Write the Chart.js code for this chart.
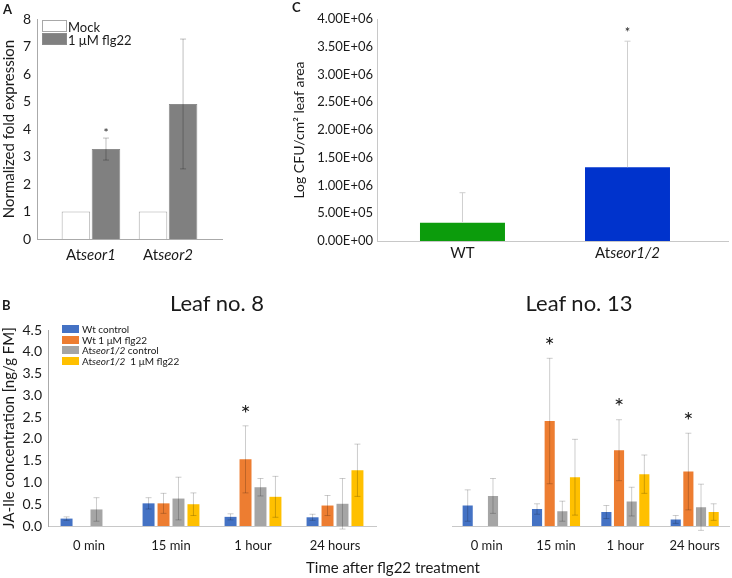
<!DOCTYPE html>
<html>
<head>
<meta charset="utf-8">
<script src="https://cdn.jsdelivr.net/npm/chart.js@4.4.0/dist/chart.umd.min.js"></script>
<style>
  body { margin: 0; background: #fff; font-family: Lato, "Open Sans", sans-serif; color: #1a1a1a; }
  #fig { position: relative; width: 732px; height: 578px; overflow: hidden; }
  canvas { position: absolute; }
  .txt { position: absolute; white-space: nowrap; line-height: 1; }
  .letter { font-weight: bold; font-size: 13px; }
  .center { transform: translateX(-50%); }
  .leg { position: absolute; white-space: nowrap; }
  .leg div { position: relative; }
  .leg span.box { position: absolute; left: 0; }
</style>
</head>
<body>
<div id="fig">
  <canvas id="chartA" width="230" height="270" style="left:0;top:0"></canvas>
  <canvas id="chartC" width="450" height="270" style="left:282px;top:0"></canvas>
  <canvas id="chartB8" width="392" height="288" style="left:0;top:290px"></canvas>
  <canvas id="chartB13" width="340" height="288" style="left:392px;top:290px"></canvas>

  <div class="txt letter" style="left:3px;top:3px">A</div>
  <div class="txt letter" style="left:292px;top:1px">C</div>
  <div class="txt letter" style="left:2px;top:299px">B</div>

  <div class="txt center" style="left:217px;top:292px;font-size:22px">Leaf no. 8</div>
  <div class="txt center" style="left:579px;top:292px;font-size:22px">Leaf no. 13</div>
  <div class="txt center" style="left:393px;top:560px;font-size:15px">Time after flg22 treatment</div>

  <div id="legendA" class="leg" style="left:42px;top:20px;font-size:13px"></div>
  <div id="legendB" class="leg" style="left:62px;top:324px;font-size:10px"></div>
</div>

<script>
// ---- panel A: qPCR ----
var geneLabels = ['Atseor1', 'Atseor2'];
var mockValues = [1, 1];
var flgValues = [3.27, 4.91];
var flgErrors = [0.4, 2.36];
var flgStars = [1, 0];

// ---- panel C: bacterial growth ----
var genotypes = ['WT', 'Atseor1/2'];
var cfuValues = [330000, 1330000];
var cfuErrors = [540000, 2270000];
var cfuStars = [0, 1];
var cfuColors = ['#0c9c0c', '#0033cc'];

// ---- panel B: JA-Ile ----
var timePoints = ['0 min', '15 min', '1 hour', '24 hours'];
var seriesNames = ['Wt control', 'Wt 1 μM flg22', 'At<i>seor1/2</i> control', 'At<i>seor1/2</i>&nbsp; 1 μM flg22'];
var seriesColors = ['#4472c4', '#ed7d31', '#a5a5a5', '#ffc000'];

var leaf8WtControl = [0.17, 0.52, 0.21, 0.20];
var leaf8WtFlg22 = [null, 0.52, 1.53, 0.47];
var leaf8MutControl = [0.38, 0.63, 0.89, 0.51];
var leaf8MutFlg22 = [null, 0.50, 0.67, 1.28];
var leaf8WtControlErr = [0.04, 0.13, 0.07, 0.07];
var leaf8WtFlg22Err = [0, 0.23, 0.77, 0.23];
var leaf8MutControlErr = [0.27, 0.49, 0.2, 0.58];
var leaf8MutFlg22Err = [0, 0.26, 0.47, 0.6];
var leaf8Stars = [0, 0, 1, 0];

var leaf13WtControl = [0.47, 0.39, 0.32, 0.15];
var leaf13WtFlg22 = [null, 2.41, 1.74, 1.25];
var leaf13MutControl = [0.69, 0.34, 0.56, 0.43];
var leaf13MutFlg22 = [null, 1.12, 1.19, 0.32];
var leaf13WtControlErr = [0.36, 0.12, 0.15, 0.09];
var leaf13WtFlg22Err = [0, 1.44, 0.7, 0.88];
var leaf13MutControlErr = [0.4, 0.23, 0.33, 0.53];
var leaf13MutFlg22Err = [0, 0.87, 0.44, 0.19];
var leaf13Stars = [0, 1, 1, 1];

var jaTicks = [0, 0.5, 1, 1.5, 2, 2.5, 3, 3.5, 4, 4.5];

Chart.defaults.font.family = 'Lato, "Open Sans", sans-serif';
Chart.defaults.color = '#1a1a1a';
Chart.defaults.animation = false;
Chart.defaults.plugins.legend.display = false;
Chart.defaults.plugins.tooltip.enabled = false;

// error bars + significance stars, read from dataset.errors / dataset.stars
var errorBars = {
  id: 'errorBars',
  afterDatasetsDraw: function (chart, args, opts) {
    var ctx = chart.ctx, ys = chart.scales.y;
    chart.data.datasets.forEach(function (ds, di) {
      if (!ds.errors) return;
      var meta = chart.getDatasetMeta(di);
      meta.data.forEach(function (bar, i) {
        var v = meta.controller.getParsed(i).y;
        var e = ds.errors[i];
        if (v == null || isNaN(v)) return;
        var top = ys.getPixelForValue(v + e);
        var bot = opts.upOnly ? ys.getPixelForValue(v) : ys.getPixelForValue(v - e);
        var half = opts.cap / 2;
        if (e) {
          ctx.save();
          ctx.strokeStyle = opts.color;
          ctx.lineWidth = 1;
          ctx.beginPath();
          ctx.moveTo(bar.x, top); ctx.lineTo(bar.x, bot);
          ctx.moveTo(bar.x - half, top); ctx.lineTo(bar.x + half, top);
          if (!opts.upOnly) { ctx.moveTo(bar.x - half, bot); ctx.lineTo(bar.x + half, bot); }
          ctx.stroke();
          ctx.restore();
        }
        if (ds.stars && ds.stars[i]) {
          ctx.save();
          ctx.fillStyle = '#1a1a1a';
          ctx.font = opts.starFont + 'px Lato, sans-serif';
          ctx.textAlign = 'center';
          ctx.textBaseline = 'middle';
          ctx.fillText('*', bar.x, top - opts.starGap);
          ctx.restore();
        }
      });
    });
  }
};

// category names under a linear x scale, "At" upright and the rest italic
var mixedLabels = {
  id: 'mixedLabels',
  afterDraw: function (chart, args, opts) {
    if (!opts.labels) return;
    var ctx = chart.ctx, xs = chart.scales.x;
    var y = chart.chartArea.bottom + opts.offset;
    opts.labels.forEach(function (lab, i) {
      var parts = lab.indexOf('At') === 0 ? [['At', ''], [lab.slice(2), 'italic ']] : [[lab, '']];
      ctx.save();
      ctx.fillStyle = '#1a1a1a';
      ctx.textBaseline = 'middle';
      ctx.textAlign = 'left';
      var widths = parts.map(function (p) {
        ctx.font = p[1] + opts.size + 'px Lato, sans-serif';
        return ctx.measureText(p[0]).width;
      });
      var total = widths.reduce(function (a, b) { return a + b; }, 0);
      var x = xs.getPixelForValue(i) - total / 2;
      parts.forEach(function (p, k) {
        ctx.font = p[1] + opts.size + 'px Lato, sans-serif';
        ctx.fillText(p[0], x, y);
        x += widths[k];
      });
      ctx.restore();
    });
  }
};

function pts(values) {
  return values.map(function (v, i) { return { x: i, y: v }; });
}

function sciLabel(v) {
  return v.toExponential(2).toUpperCase().replace(/E([+-])(\d)$/, 'E$10$2');
}

// Panel A
new Chart(document.getElementById('chartA'), {
  type: 'bar',
  data: {
    datasets: [
      { label: 'Mock', data: pts(mockValues), backgroundColor: '#ffffff', borderColor: '#a8a8a8', borderWidth: 1 },
      { label: '1 μM flg22', data: pts(flgValues), backgroundColor: '#808080', borderColor: '#8c8c8c', borderWidth: 1,
        errors: flgErrors, stars: flgStars }
    ]
  },
  options: {
    responsive: false,
    layout: { padding: { top: 19, right: 8, left: 0, bottom: 0 } },
    datasets: { bar: { categoryPercentage: 0.78, barPercentage: 0.95 } },
    scales: {
      x: {
        type: 'linear', min: -0.7, max: 1.7, offset: false,
        grid: { display: false, offset: false }, border: { color: '#aaa' },
        ticks: { display: false, stepSize: 1, includeBounds: false },
        afterFit: function (s) { s.height = 31; }
      },
      y: {
        min: 0, max: 8,
        ticks: { stepSize: 1, padding: 6, font: { size: 14 } },
        grid: { display: false, drawTicks: false }, border: { color: '#aaa' },
        title: { display: true, text: 'Normalized fold expression', font: { size: 15 }, padding: { top: 0, bottom: 0 } },
        afterFit: function (s) { s.width = 37; }
      }
    },
    plugins: {
      errorBars: { color: 'rgba(0,0,0,0.25)', cap: 6, starFont: 12, starGap: 5 },
      mixedLabels: { labels: geneLabels, offset: 16, size: 15 }
    }
  },
  plugins: [errorBars, mixedLabels]
});

// Panel C
new Chart(document.getElementById('chartC'), {
  type: 'bar',
  data: {
    datasets: [
      { label: 'CFU', data: pts(cfuValues), backgroundColor: cfuColors, errors: cfuErrors, stars: cfuStars }
    ]
  },
  options: {
    responsive: false,
    layout: { padding: { top: 19, right: 4, left: 0, bottom: 0 } },
    datasets: { bar: { categoryPercentage: 0.515, barPercentage: 1 } },
    scales: {
      x: {
        type: 'linear', min: -0.518, max: 1.609, offset: false,
        grid: { display: false, offset: false }, border: { color: '#c8c8c8' },
        ticks: { display: false, stepSize: 1, includeBounds: false },
        afterFit: function (s) { s.height = 29; }
      },
      y: {
        min: 0, max: 4000000,
        ticks: { stepSize: 500000, padding: 4, font: { size: 13 }, callback: sciLabel },
        grid: { display: false, drawTicks: false }, border: { color: '#c8c8c8' },
        title: { display: true, text: 'Log CFU/cm² leaf area', font: { size: 14 }, padding: { top: 9, bottom: 0 } },
        afterFit: function (s) { s.width = 95; }
      }
    },
    plugins: {
      errorBars: { color: '#cfcfcf', cap: 6, starFont: 13, starGap: 8, upOnly: true },
      mixedLabels: { labels: genotypes, offset: 12, size: 15 }
    }
  },
  plugins: [errorBars, mixedLabels]
});

// Panel B
function jaDatasets(values, errors, stars) {
  return values.map(function (vals, k) {
    return {
      label: seriesNames[k].replace(/<[^>]+>/g, '').replace('&nbsp;', ' '),
      data: vals,
      backgroundColor: seriesColors[k],
      errors: errors[k],
      stars: k === 1 ? stars : null
    };
  });
}

function jaOptions(showY, padLeft, padRight) {
  return {
    responsive: false,
    layout: { padding: { top: 40, right: padRight, left: padLeft, bottom: 0 } },
    datasets: { bar: { categoryPercentage: 0.73, barPercentage: 0.8 } },
    scales: {
      x: {
        grid: { display: false, drawTicks: false }, border: { color: '#c8c8c8' },
        ticks: { padding: 12, font: { size: 13 } },
        afterFit: function (s) { s.height = 52; }
      },
      y: {
        display: showY,
        min: 0, max: 4.5,
        afterBuildTicks: function (s) { s.ticks = jaTicks.map(function (v) { return { value: v }; }); },
        ticks: { padding: 6, font: { size: 14 }, callback: function (v) { return v.toFixed(1); } },
        grid: { display: false, drawTicks: false }, border: { color: '#aaa' },
        title: { display: true, text: 'JA-Ile concentration [ng/g FM]', font: { size: 15 }, padding: { top: 0, bottom: 0 } },
        afterFit: function (s) { s.width = 48; }
      }
    },
    plugins: {
      errorBars: { color: 'rgba(0,0,0,0.2)', cap: 6, starFont: 24, starGap: 12 }
    }
  };
}

new Chart(document.getElementById('chartB8'), {
  type: 'bar',
  data: {
    labels: timePoints,
    datasets: jaDatasets(
      [leaf8WtControl, leaf8WtFlg22, leaf8MutControl, leaf8MutFlg22],
      [leaf8WtControlErr, leaf8WtFlg22Err, leaf8MutControlErr, leaf8MutFlg22Err],
      leaf8Stars)
  },
  options: jaOptions(true, 0, 16),
  plugins: [errorBars]
});

new Chart(document.getElementById('chartB13'), {
  type: 'bar',
  data: {
    labels: timePoints,
    datasets: jaDatasets(
      [leaf13WtControl, leaf13WtFlg22, leaf13MutControl, leaf13MutFlg22],
      [leaf13WtControlErr, leaf13WtFlg22Err, leaf13MutControlErr, leaf13MutFlg22Err],
      leaf13Stars)
  },
  options: jaOptions(false, 12, 0),
  plugins: [errorBars]
});

// HTML legends
document.getElementById('legendA').innerHTML =
  '<div style="height:13px"><span class="box" style="top:0;width:23px;height:10px;border:1px solid #a8a8a8;background:#fff"></span>' +
  '<span style="position:absolute;left:26px;top:-1px">Mock</span></div>' +
  '<div style="height:13px"><span class="box" style="top:0;width:23px;height:10px;border:1px solid #8c8c8c;background:#808080"></span>' +
  '<span style="position:absolute;left:26px;top:-1px">1 μM flg22</span></div>';

document.getElementById('legendB').innerHTML = seriesNames.map(function (name, k) {
  return '<div style="height:10.5px"><span class="box" style="top:1px;width:17px;height:8px;background:' + seriesColors[k] + '"></span>' +
    '<span style="position:absolute;left:20px;top:-1px">' + name + '</span></div>';
}).join('');
</script>
</body>
</html>
